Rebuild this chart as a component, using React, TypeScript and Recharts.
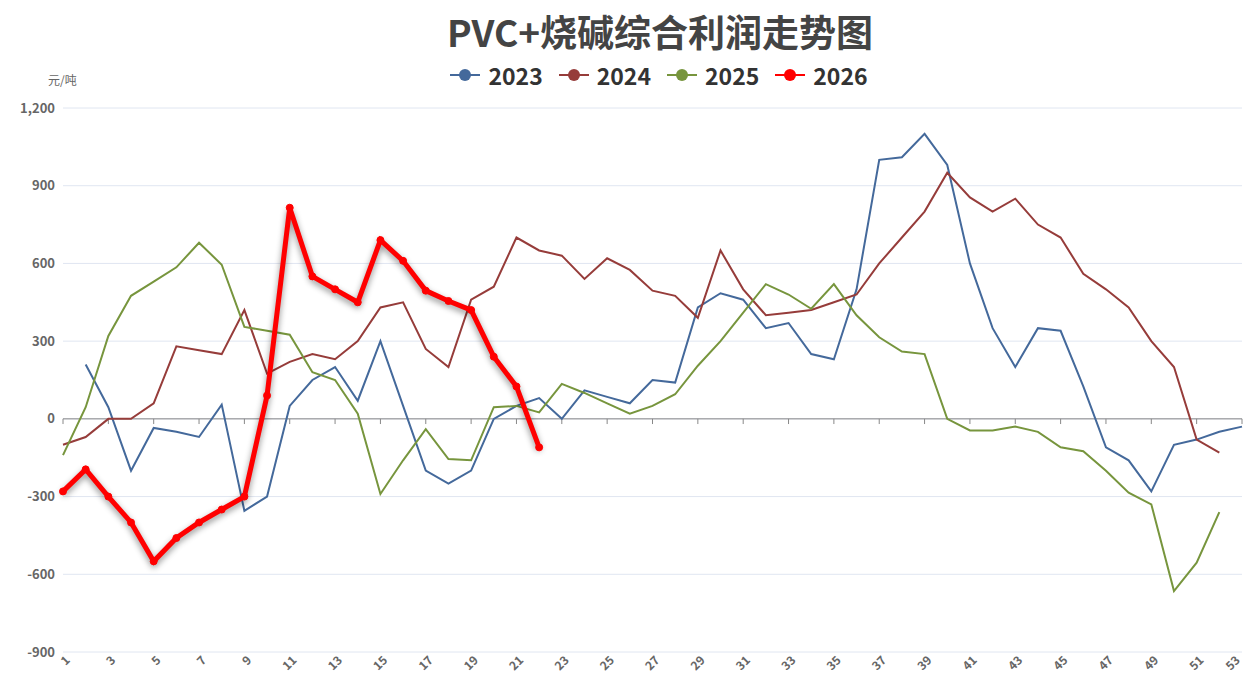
import React from "react";
import {
  LineChart,
  Line,
  XAxis,
  YAxis,
  CartesianGrid,
  ReferenceLine,
} from "recharts";

const weeks = [
  "1", "2", "3", "4", "5", "6", "7", "8", "9", "10", "11", "12", "13", "14",
  "15", "16", "17", "18", "19", "20", "21", "22", "23", "24", "25", "26", "27",
  "28", "29", "30", "31", "32", "33", "34", "35", "36", "37", "38", "39", "40",
  "41", "42", "43", "44", "45", "46", "47", "48", "49", "50", "51", "52", "53",
];

const y2023 = [
  null, 210, 45, -200, -35, -50, -70, 55, -355, -300, 50, 150, 200, 70, 300, 50,
  -200, -250, -200, 0, 50, 80, 0, 110, 85, 60, 150, 140, 430, 485, 460, 350, 370,
  250, 230, 500, 1000, 1010, 1100, 980, 600, 350, 200, 350, 340, 125, -110, -160,
  -280, -100, -80, -50, -30,
];

const y2024 = [
  -100, -70, 0, 0, 60, 280, 265, 250, 420, 175, 220, 250, 230, 300, 430, 450, 270,
  200, 460, 510, 700, 650, 630, 540, 620, 575, 495, 475, 390, 650, 500, 400, 410,
  420, 450, 480, 600, 700, 800, 950, 855, 800, 850, 750, 700, 560, 500, 430, 300,
  200, -80, -130, null,
];

const y2025 = [
  -140, 45, 320, 475, 530, 585, 680, 595, 355, 340, 325, 180, 150, 20, -290, -160,
  -40, -155, -160, 45, 50, 25, 135, 100, 60, 20, 50, 95, 205, 300, 410, 520, 480,
  425, 520, 400, 315, 260, 250, 0, -45, -45, -30, -50, -110, -125, -200, -285,
  -330, -665, -555, -360, null,
];

const y2026 = [
  -280, -195, -300, -400, -550, -460, -400, -350, -300, 90, 815, 550, 500, 450, 690,
  610, 495, 455, 420, 240, 125, -110,
];

const yTicks = [-900, -600, -300, 0, 300, 600, 900, 1200];

const series = [
  { key: "2023", color: "#44699B" },
  { key: "2024", color: "#963C3A" },
  { key: "2025", color: "#77953D" },
  { key: "2026", color: "#FF0000" },
];

const data = weeks.map((w, i) => ({
  week: w,
  "2023": y2023[i],
  "2024": y2024[i],
  "2025": y2025[i],
  "2026": i < y2026.length ? y2026[i] : null,
}));

const oddWeeks = weeks.filter((_, i) => i % 2 === 0);

const font = '"Noto Sans CJK SC", "Noto Sans", sans-serif';

function WeekTick(props: any) {
  const { x, y, payload } = props;
  // keep the last label inside the picture
  const ax = Math.min(x + 4, 1237);
  const ay = y - 3;
  return (
    <text
      x={ax}
      y={ay}
      transform={`rotate(-45 ${ax} ${ay})`}
      textAnchor="end"
      dominantBaseline="central"
      fontSize={12}
      fontWeight="bold"
      fill="#666"
      fontFamily={font}
    >
      {payload.value}
    </text>
  );
}

function LegendRow() {
  return (
    <div style={{ display: "flex", alignItems: "center", justifyContent: "center", fontFamily: font }}>
      {series.map((s) => (
        <div key={s.key} style={{ display: "flex", alignItems: "center", marginRight: 16 }}>
          <svg width={30} height={14}>
            <line x1={0} y1={7} x2={30} y2={7} stroke={s.color} strokeWidth={2} />
            <circle cx={15} cy={7} r={6} fill={s.color} />
          </svg>
          <span style={{ marginLeft: 8, fontSize: 23, fontWeight: "bold", color: "#333" }}>{s.key}</span>
        </div>
      ))}
    </div>
  );
}

export default function App() {
  return (
    <div style={{ position: "absolute", left: 0, top: 0, width: 1245, height: 678, background: "#fff" }}>
      <style>{`.red-line { filter: drop-shadow(0px 3px 3px rgba(0,0,0,0.45)); }`}</style>
      <div
        style={{
          position: "absolute",
          top: 4,
          left: 360,
          width: 600,
          textAlign: "center",
          fontFamily: font,
          fontSize: 37,
          fontWeight: "bold",
          color: "#444",
        }}
      >
        PVC+烧碱综合利润走势图
      </div>
      <div style={{ position: "absolute", top: 58, left: 447, width: 440 }}>
        <LegendRow />
      </div>
      <div style={{ position: "absolute", top: 71, left: 48, fontSize: 12, color: "#666", fontFamily: font }}>
        元/吨
      </div>
      <LineChart
        width={1245}
        height={678}
        data={data}
        margin={{ top: 108, right: 3, left: 0, bottom: 0 }}
      >
        <CartesianGrid vertical={false} stroke="#E0E6F1" />
        <XAxis
          dataKey="week"
          interval={1}
          axisLine={false}
          tickLine={false}
          height={26}
          tick={<WeekTick />}
        />
        <YAxis
          domain={[-900, 1200]}
          ticks={yTicks}
          width={63}
          axisLine={false}
          tickLine={false}
          tickMargin={2}
          tickFormatter={(v: number) => v.toLocaleString("en-US")}
          tick={{ fontSize: 13, fontWeight: "bold", fill: "#666", fontFamily: font }}
        />
        <ReferenceLine y={0} stroke="#888" strokeWidth={1} />
        {oddWeeks.map((w) => (
          <ReferenceLine
            key={w}
            segment={[
              { x: w, y: 0 },
              { x: w, y: -20 },
            ]}
            stroke="#888"
          />
        ))}
        {series.slice(0, 3).map((s) => (
          <Line
            key={s.key}
            dataKey={s.key}
            stroke={s.color}
            strokeWidth={2}
            dot={false}
            activeDot={false}
            isAnimationActive={false}
          />
        ))}
        <Line
          dataKey="2026"
          className="red-line"
          stroke="#FF0000"
          strokeWidth={5}
          dot={{ r: 3.5, fill: "#FF0000", stroke: "#FF0000", strokeWidth: 1 }}
          activeDot={false}
          isAnimationActive={false}
        />
      </LineChart>
    </div>
  );
}
